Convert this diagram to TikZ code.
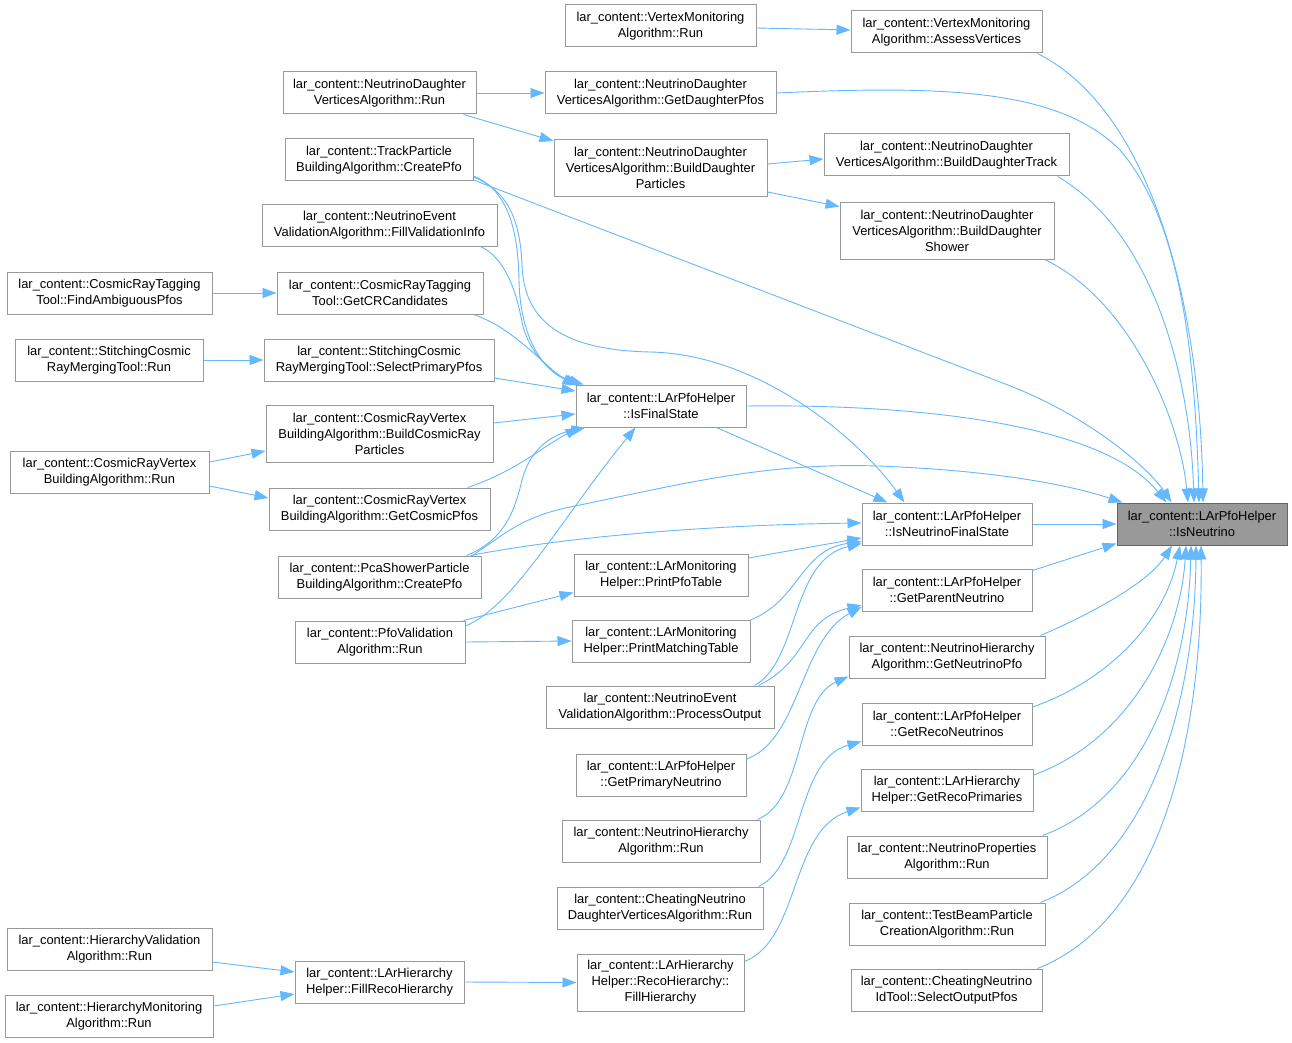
\documentclass[tikz,border=0pt]{standalone}
\usepackage{fontspec}
\setmainfont{Liberation Sans}
\usetikzlibrary{arrows.meta,calc}
\definecolor{edgeblue}{HTML}{63B8FF}
\definecolor{boxline}{HTML}{999999}
\definecolor{hlfill}{HTML}{999999}
\definecolor{hlline}{HTML}{666666}
\begin{document}
\begin{tikzpicture}[x=1pt,y=-1pt,
  box/.style={draw=boxline, fill=white, line width=1pt, align=center, inner sep=0pt, font=\fontsize{12.9}{16}\selectfont},
  hl/.style={box, draw=hlline, fill=hlfill},
  edge/.style={draw=edgeblue, line width=0.9pt, -{Triangle[length=14pt,width=10pt]}}]
\useasboundingbox[fill=white] (0,0) rectangle (1292,1043);

% nodes
\node[box, minimum width=191pt, minimum height=42pt] (vmr) at (660.5,26) {lar\_content::VertexMonitoring\\Algorithm::Run};
\node[box, minimum width=191pt, minimum height=42pt] (vmav) at (946.5,32) {lar\_content::VertexMonitoring\\Algorithm::AssessVertices};
\node[box, minimum width=193pt, minimum height=42pt] (ndvr) at (379.5,93) {lar\_content::NeutrinoDaughter\\VerticesAlgorithm::Run};
\node[box, minimum width=231pt, minimum height=42pt] (ndvgdp) at (660.5,93) {lar\_content::NeutrinoDaughter\\VerticesAlgorithm::GetDaughterPfos};
\node[box, minimum width=213pt, minimum height=57pt] (ndvbdp) at (660.5,168) {lar\_content::NeutrinoDaughter\\VerticesAlgorithm::BuildDaughter\\Particles};
\node[box, minimum width=245pt, minimum height=42pt] (ndvbdt) at (946.5,155) {lar\_content::NeutrinoDaughter\\VerticesAlgorithm::BuildDaughterTrack};
\node[box, minimum width=214pt, minimum height=57pt] (ndvbds) at (947,230.5) {lar\_content::NeutrinoDaughter\\VerticesAlgorithm::BuildDaughter\\Shower};
\node[box, minimum width=188pt, minimum height=42pt] (tpc) at (379,160) {lar\_content::TrackParticle\\BuildingAlgorithm::CreatePfo};
\node[box, minimum width=235pt, minimum height=42pt] (nevfvi) at (379.5,225) {lar\_content::NeutrinoEvent\\ValidationAlgorithm::FillValidationInfo};
\node[box, minimum width=205pt, minimum height=42pt] (crtfap) at (109.5,293) {lar\_content::CosmicRayTagging\\Tool::FindAmbiguousPfos};
\node[box, minimum width=206pt, minimum height=42pt] (crtgcr) at (380,293) {lar\_content::CosmicRayTagging\\Tool::GetCRCandidates};
\node[box, minimum width=188pt, minimum height=42pt] (scrmr) at (109,360) {lar\_content::StitchingCosmic\\RayMergingTool::Run};
\node[box, minimum width=230pt, minimum height=42pt] (scrmsp) at (379,360) {lar\_content::StitchingCosmic\\RayMergingTool::SelectPrimaryPfos};
\node[box, minimum width=227pt, minimum height=57pt] (crvbcrp) at (379.5,434) {lar\_content::CosmicRayVertex\\BuildingAlgorithm::BuildCosmicRay\\Particles};
\node[box, minimum width=199pt, minimum height=42pt] (crvr) at (109.5,472) {lar\_content::CosmicRayVertex\\BuildingAlgorithm::Run};
\node[box, minimum width=221pt, minimum height=42pt] (crvgcp) at (379.5,509) {lar\_content::CosmicRayVertex\\BuildingAlgorithm::GetCosmicPfos};
\node[box, minimum width=170pt, minimum height=42pt] (ifs) at (661,406) {lar\_content::LArPfoHelper\\::IsFinalState};
\node[box, minimum width=203pt, minimum height=42pt] (pca) at (379.5,577) {lar\_content::PcaShowerParticle\\BuildingAlgorithm::CreatePfo};
\node[box, minimum width=170pt, minimum height=42pt] (pvr) at (380,642) {lar\_content::PfoValidation\\Algorithm::Run};
\node[box, minimum width=170pt, minimum height=42pt] (infs) at (947,524) {lar\_content::LArPfoHelper\\::IsNeutrinoFinalState};
\node[hl, minimum width=170pt, minimum height=42pt] (isn) at (1202,524) {lar\_content::LArPfoHelper\\::IsNeutrino};
\node[box, minimum width=174pt, minimum height=42pt] (ppt) at (661,575) {lar\_content::LArMonitoring\\Helper::PrintPfoTable};
\node[box, minimum width=178pt, minimum height=42pt] (pmt) at (661,641) {lar\_content::LArMonitoring\\Helper::PrintMatchingTable};
\node[box, minimum width=170pt, minimum height=42pt] (gpn) at (947,590) {lar\_content::LArPfoHelper\\::GetParentNeutrino};
\node[box, minimum width=196pt, minimum height=42pt] (gnp) at (947,657) {lar\_content::NeutrinoHierarchy\\Algorithm::GetNeutrinoPfo};
\node[box, minimum width=228pt, minimum height=42pt] (nevpo) at (660,707) {lar\_content::NeutrinoEvent\\ValidationAlgorithm::ProcessOutput};
\node[box, minimum width=170pt, minimum height=42pt] (grn) at (947,724) {lar\_content::LArPfoHelper\\::GetRecoNeutrinos};
\node[box, minimum width=170pt, minimum height=42pt] (gprn) at (661,775) {lar\_content::LArPfoHelper\\::GetPrimaryNeutrino};
\node[box, minimum width=172pt, minimum height=42pt] (grp) at (947,790) {lar\_content::LArHierarchy\\Helper::GetRecoPrimaries};
\node[box, minimum width=198pt, minimum height=42pt] (nhr) at (661,841) {lar\_content::NeutrinoHierarchy\\Algorithm::Run};
\node[box, minimum width=200pt, minimum height=42pt] (npr) at (947,857) {lar\_content::NeutrinoProperties\\Algorithm::Run};
\node[box, minimum width=206pt, minimum height=42pt] (cndvr) at (660,908) {lar\_content::CheatingNeutrino\\DaughterVerticesAlgorithm::Run};
\node[box, minimum width=196pt, minimum height=42pt] (tbpcr) at (947,924) {lar\_content::TestBeamParticle\\CreationAlgorithm::Run};
\node[box, minimum width=205pt, minimum height=42pt] (hvr) at (109.5,949) {lar\_content::HierarchyValidation\\Algorithm::Run};
\node[box, minimum width=169pt, minimum height=42pt] (frh) at (379.5,982) {lar\_content::LArHierarchy\\Helper::FillRecoHierarchy};
\node[box, minimum width=167pt, minimum height=57pt] (rhfh) at (660.5,982.5) {lar\_content::LArHierarchy\\Helper::RecoHierarchy::\\FillHierarchy};
\node[box, minimum width=208pt, minimum height=42pt] (hmr) at (109,1016) {lar\_content::HierarchyMonitoring\\Algorithm::Run};
\node[box, minimum width=191pt, minimum height=42pt] (cnidsop) at (946.5,990) {lar\_content::CheatingNeutrino\\IdTool::SelectOutputPfos};

% simple edges
\draw[edge] ($(vmr.east)+(0,2)$) -- ($(vmav.west)+(0,-2)$);
\draw[edge] (ndvr.east) -- (ndvgdp.west);
\draw[edge] ($(ndvr.south east)+(-13,0)$) -- ($(ndvbdp.north west)+(0,2)$);
\draw[edge] ($(ndvbdp.east)+(0,-4)$) -- ($(ndvbdt.west)+(0,4)$);
\draw[edge] ($(ndvbdp.east)+(0,24)$) -- ($(ndvbds.west)+(0,-24)$);
\draw[edge] (crtfap.east) -- (crtgcr.west);
\draw[edge] (scrmr.east) -- (scrmsp.west);
\draw[edge] ($(crvr.east)+(0,-10)$) -- ($(crvbcrp.west)+(0,17)$);
\draw[edge] ($(crvr.east)+(0,14)$) -- ($(crvgcp.west)+(0,-11)$);
\draw[edge] ($(pvr.north east)+(-2,0)$) -- ($(ppt.south west)+(0,-4)$);
\draw[edge] (pvr.east) -- (pmt.west);
\draw[edge] ($(hvr.east)+(0,13)$) -- ($(frh.west)+(0,-10)$);
\draw[edge] ($(hmr.east)+(0,-10)$) -- ($(frh.west)+(0,12)$);
\draw[edge] (frh.east) -- (rhfh.west);

% into IsFinalState
\draw[edge] ($(tpc.east)+(0,16)$) .. controls (508,190) and (518,230) .. (519,280) .. controls (520,340) and (545,372) .. ($(ifs.north west)+(4,0)$);
\draw[edge] ($(nevfvi.south east)+(-17,0)$) .. controls (505,258) and (516,290) .. (522,322) .. controls (528,352) and (552,375) .. ($(ifs.north west)+(8,0)$);
\draw[edge] ($(crtgcr.south east)+(-10,0)$) .. controls (505,325) and (530,350) .. (548,366) .. controls (558,375) and (566,380) .. ($(ifs.north west)+(1,1)$);
\draw[edge] ($(scrmsp.east)+(0,18)$) -- ($(ifs.west)+(0,-15)$);
\draw[edge] ($(crvbcrp.east)+(0,-11)$) -- ($(ifs.west)+(0,8)$);
\draw[edge] ($(crvgcp.north east)+(-23,0)$) .. controls (515,472) and (545,445) .. ($(ifs.south west)+(4,0)$);
\draw[edge] ($(pca.north east)+(-15,0)$) .. controls (505,540) and (515,510) .. (522,480) .. controls (530,450) and (550,435) .. ($(ifs.south west)+(10,0)$);
\draw[edge] ($(pvr.east)+(0,-16)$) .. controls (515,605) and (560,520) .. ($(ifs.south west)+(60,0)$);

% out of IsFinalState
\draw[edge] ($(ifs.south east)+(-30,0)$) -- ($(infs.north west)+(26,0)$);
\draw[edge] (ifs.east) .. controls (900,404) and (1100,420) .. ($(isn.north west)+(50,0)$);

% TrackParticle CreatePfo
\draw[edge] ($(tpc.east)+(0,17)$) .. controls (505,190) and (520,215) .. (522,265) .. controls (524,320) and (560,350) .. (650,352) .. controls (760,354) and (860,440) .. ($(infs.north west)+(43,0)$);
\draw[edge] ($(tpc.east)+(0,20)$) -- (1000,382) .. controls (1090,415) and (1150,470) .. ($(isn.north west)+(55,0)$);

% PcaShower CreatePfo
\draw[edge] ($(pca.north east)+(-11,0)$) .. controls (560,538) and (700,525) .. ($(infs.west)+(0,-1)$);
\draw[edge] ($(pca.north east)+(-9,0)$) .. controls (510,530) and (525,515) .. (580,505) .. controls (700,480) and (780,460) .. (900,467) .. controls (1000,472) and (1070,485) .. ($(isn.north west)+(6,0)$);

% into IsNeutrino from above
\draw[edge] ($(vmav.south east)+(-5,0)$) .. controls (1150,110) and (1200,300) .. ($(isn.north)+(1,0)$);
\draw[edge] (ndvgdp.east) .. controls (950,85) and (1060,90) .. (1120,150) .. controls (1180,220) and (1195,350) .. ($(isn.north)+(-3,0)$);
\draw[edge] ($(ndvbdt.south east)+(-12,0)$) .. controls (1150,230) and (1190,370) .. ($(isn.north)+(-8,0)$);
\draw[edge] ($(ndvbds.south east)+(-10,0)$) .. controls (1130,300) and (1180,420) .. ($(isn.north)+(-14,0)$);

% into IsNeutrino from left / below
\draw[edge] (infs.east) -- (isn.west);
\draw[edge] ($(gpn.north east)+(0,2)$) -- ($(isn.south west)+(0,-2)$);
\draw[edge] ($(gnp.north east)+(-5,0)$) .. controls (1100,610) and (1150,580) .. ($(isn.south)+(-30,0)$);
\draw[edge] ($(grn.east)+(0,-17)$) .. controls (1110,680) and (1165,620) .. ($(isn.south)+(-22,0)$);
\draw[edge] ($(grp.east)+(0,-15)$) .. controls (1130,740) and (1180,640) .. ($(isn.south)+(-16,0)$);
\draw[edge] ($(npr.north east)+(-5,0)$) .. controls (1140,800) and (1188,680) .. ($(isn.south)+(-11,0)$);
\draw[edge] ($(tbpcr.north east)+(-5,0)$) .. controls (1150,860) and (1195,700) .. ($(isn.south)+(-6,0)$);
\draw[edge] ($(cnidsop.north east)+(-5,0)$) .. controls (1160,920) and (1203,740) .. ($(isn.south)+(-1,0)$);

% into IsNeutrinoFinalState
\draw[edge] ($(ppt.east)+(0,-17)$) -- ($(infs.west)+(0,14)$);
\draw[edge] ($(pmt.east)+(0,-21)$) .. controls (800,600) and (800,550) .. ($(infs.south west)+(0,-4)$);
\draw[edge] ($(nevpo.north east)+(-20,0)$) .. controls (800,660) and (790,560) .. ($(infs.south west)+(0,-2)$);

% into GetParentNeutrino
\draw[edge] ($(nevpo.north east)+(-16,0)$) .. controls (810,660) and (800,620) .. ($(gpn.west)+(0,15)$);
\draw[edge] ($(gprn.east)+(0,-16)$) .. controls (800,740) and (800,640) .. ($(gpn.west)+(0,17)$);

% lower group
\draw[edge] ($(nhr.north east)+(-3,0)$) .. controls (805,800) and (795,700) .. ($(gnp.south west)+(0,-2)$);
\draw[edge] ($(cndvr.north east)+(-5,0)$) .. controls (805,865) and (795,760) .. ($(grn.south west)+(0,-4)$);
\draw[edge] ($(rhfh.north east)+(0,8)$) .. controls (800,940) and (790,830) .. ($(grp.south west)+(0,-4)$);
\end{tikzpicture}
\end{document}
